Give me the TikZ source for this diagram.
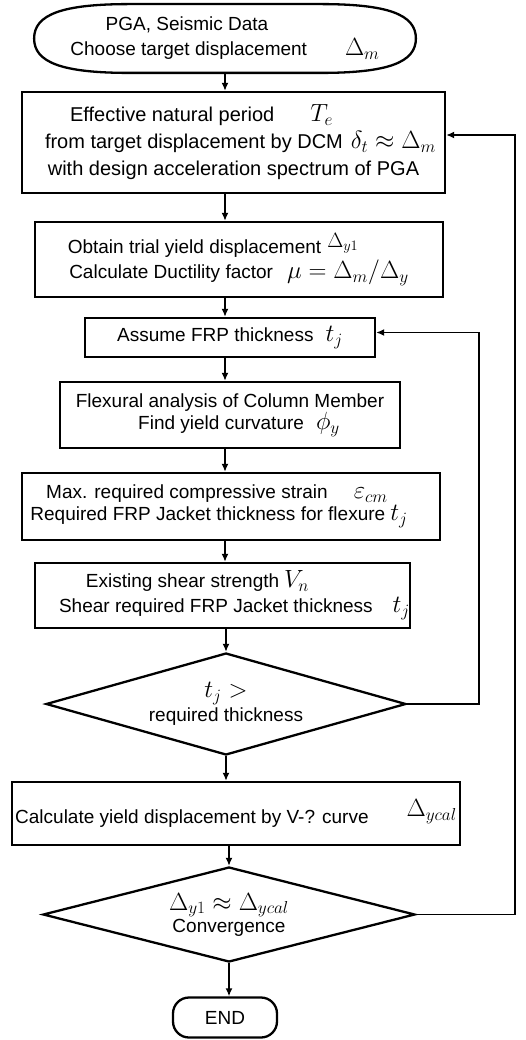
\documentclass[tikz,border=0pt]{standalone}
\usepackage[no-math]{fontspec}
\setmainfont{Liberation Sans}
\usetikzlibrary{shapes.geometric,arrows.meta,calc}
% larger math symbols set beside the sans-serif text
\newcommand{\mth}[1]{{\fontsize{23}{23}\selectfont$#1$}}
\begin{document}
\begin{tikzpicture}[x=1pt,y=-1pt,line width=1.8pt,
  every node/.style={font=\fontsize{19}{22}\selectfont,align=center,inner sep=0pt},
  stepbox/.style={draw,rectangle,line width=2.3pt},
  terminal/.style={draw,rectangle,rounded corners=#1,line width=2.3pt},
  decision/.style={draw,diamond,aspect=3.5,line width=2.3pt},
  arr/.style={-{Latex[length=8pt,width=7pt]}}]
\useasboundingbox (0,0) rectangle (526,1040);

% start terminal: text node with a flattened oval drawn round it
\node[minimum width=380pt,minimum height=67pt] (start) at (225,38.5)
  {PGA, Seismic Data\hspace*{76pt}\\[3pt]
   Choose target displacement\hspace{38pt}\mth{\Delta_m}};
\draw[line width=2.3pt] (start.west)
   .. controls ($(start.west)+(0,-24)$) and ($(start.north west)+(28,0)$) .. ($(start.north west)+(95,0)$)
   -- ($(start.north east)+(-95,0)$)
   .. controls ($(start.north east)+(-28,0)$) and ($(start.east)+(0,-24)$) .. (start.east)
   .. controls ($(start.east)+(0,24)$) and ($(start.south east)+(-28,0)$) .. ($(start.south east)+(-95,0)$)
   -- ($(start.south west)+(95,0)$)
   .. controls ($(start.south west)+(28,0)$) and ($(start.west)+(0,24)$) .. (start.west) -- cycle;

% main column of steps
\node[stepbox,minimum width=423pt,minimum height=101pt,font=\fontsize{20}{23}\selectfont] (b1) at (233.5,142.5)
  {Effective natural period\hspace{36pt}\mth{T_e}\hspace*{64pt}\\[4pt]
   \hspace*{14pt}from target displacement by DCM\hspace{8pt}\mth{\delta_t\approx\Delta_m}\\[4pt]
   with design acceleration spectrum of PGA};
\node[stepbox,minimum width=408pt,minimum height=75pt] (b2) at (239,259.5)
  {Obtain trial yield displacement\hspace{6pt}\raisebox{6pt}{{\fontsize{21}{21}\selectfont$\Delta_{y1}$}}\hspace*{52pt}\\[1pt]
   Calculate Ductility factor\hspace{14pt}\mth{\mu=\Delta_m/\Delta_y}};
\node[stepbox,minimum width=290pt,minimum height=39pt] (b3) at (230,337.5)
  {Assume FRP thickness\hspace{12pt}\mth{t_j}};
\node[stepbox,minimum width=340pt,minimum height=66pt] (b4) at (230,415)
  {Flexural analysis of Column Member\\
   \hspace*{18pt}Find yield curvature\hspace{12pt}\mth{\phi_y}};
\node[stepbox,minimum width=418pt,minimum height=67pt] (b5) at (231,506.5)
  {Max. required compressive strain\hspace{26pt}\mth{\varepsilon_{cm}}\hspace*{28pt}\\
   Required FRP Jacket thickness for flexure\hspace{5pt}\mth{t_j}\hspace*{24pt}};
\node[stepbox,minimum width=375pt,minimum height=65pt] (b6) at (222.5,595.5)
  {Existing shear strength\hspace{5pt}\mth{V_n}\hspace*{50pt}\\[3pt]
   \hspace*{24pt}Shear required FRP Jacket thickness\hspace{20pt}\mth{t_j}};
\node[decision,minimum width=360pt,minimum height=102pt] (d1) at (226,704)
  {\mth{t_j >}\\[2pt] required thickness};
\node[stepbox,minimum width=448pt,minimum height=63pt] (b7) at (236,813.5)
  {Calculate yield displacement by V-? curve\hspace{38pt}\raisebox{7pt}{\mth{\Delta_{ycal}}}};
\node[decision,minimum width=372pt,minimum height=95pt] (d2) at (229,914.5)
  {\mth{\Delta_{y1}\approx\Delta_{ycal}}\\ Convergence};
\node[terminal=16pt,minimum width=104pt,minimum height=40pt] (end) at (225,1017.5) {END};

% flow axis
\coordinate (ax) at (225,0);

% downward connectors
\draw[arr] (start.south -| ax) -- (b1.north -| ax);
\draw[arr] (b1.south -| ax) -- (b2.north -| ax);
\draw[arr] (b2.south -| ax) -- (b3.north -| ax);
\draw[arr] (b3.south -| ax) -- (b4.north -| ax);
\draw[arr] (b4.south -| ax) -- (b5.north -| ax);
\draw[arr] (b5.south -| ax) -- (b6.north -| ax);
\draw[arr] (b6.south -| d1) -- (d1.north);
\draw[arr] (d1.south) -- (b7.north -| d1);
\draw[arr] (b7.south -| d2) -- (d2.north);
\draw[arr] (d2.south) -- (end.north -| d2);

% feedback loops
\draw[arr] (d1.east) -- ++(72,0) |- ([yshift=5pt]b3.east);
\draw[arr] (d2.east) -- ++(99,0) |- ([yshift=7.5pt]b1.east);
\end{tikzpicture}
\end{document}
